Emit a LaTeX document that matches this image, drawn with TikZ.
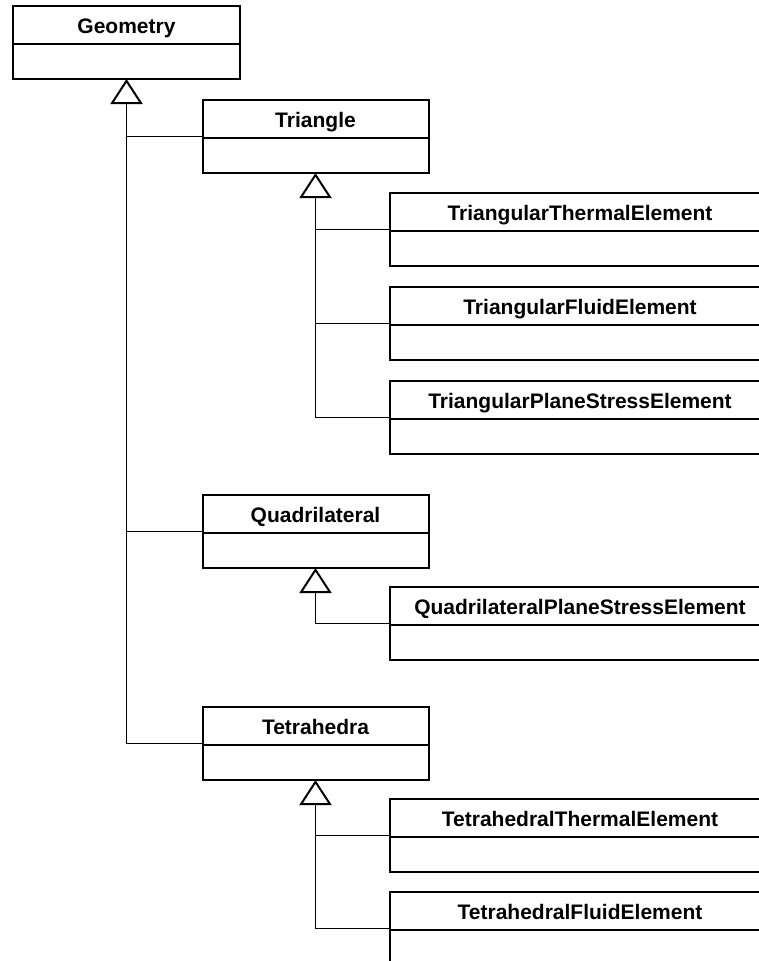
\documentclass[tikz,border=0pt]{standalone}
\usepackage{fontspec}
\setmainfont{Liberation Sans}
\usetikzlibrary{arrows.meta}
\tikzset{
  classbox/.style={draw, line width=2pt, minimum height=73pt, inner sep=0pt, outer sep=0pt,
    path picture={\draw[line width=2pt] ([yshift=-38pt]path picture bounding box.north west) -- ([yshift=-38pt]path picture bounding box.north east);}},
  smallclass/.style={classbox, minimum width=226pt},
  bigclass/.style={classbox, minimum width=380pt},
  classname/.style={anchor=base, font=\fontsize{21}{25}\selectfont\bfseries, inner sep=0pt},
  conn/.style={line width=1.3pt},
  gen/.style={conn, -{Triangle[open, width=32pt, length=25pt, line width=2pt]}},
}
\newcommand\umlcls[5]{%
  \node[#1] (#2) at (#3,{-(#4)-36.5}) {};
  \node[classname] (#2-name) at ([yshift=-27pt]#2.north) {#5};}
\begin{document}
\begin{tikzpicture}[x=1pt,y=1pt]
\useasboundingbox (0,0) rectangle (759,-961);
\fill[white] (0,0) rectangle (759,-961);
\clip (0,0) rectangle (759,-961);

\umlcls{classbox, minimum width=227pt}{geo}{126.5}{6}{Geometry}
\umlcls{smallclass}{tri}{315.5}{100}{Triangle}
\umlcls{smallclass}{quad}{315.5}{495}{Quadrilateral}
\umlcls{smallclass}{tet}{315.5}{707}{Tetrahedra}

\umlcls{bigclass}{tte}{580}{193}{TriangularThermalElement}
\umlcls{bigclass}{tfe}{580}{287}{TriangularFluidElement}
\umlcls{bigclass}{tpe}{580}{381}{TriangularPlaneStressElement}
\umlcls{bigclass}{qpe}{580}{587}{QuadrilateralPlaneStressElement}
\umlcls{bigclass}{hte}{580}{799}{TetrahedralThermalElement}
\umlcls{bigclass}{hfe}{580}{892}{TetrahedralFluidElement}

\coordinate (geo-base) at ([yshift=-24pt]geo.south);
\coordinate (tri-base) at ([yshift=-24pt]tri.south);
\coordinate (tet-base) at ([yshift=-24pt]tet.south);

\draw[gen] (tet.west) -| (geo.south);
\draw[conn] (tri.west) -| (geo-base);
\draw[conn] (quad.west) -| (geo-base);

\draw[gen] (tpe.west) -| (tri.south);
\draw[conn] (tte.west) -| (tri-base);
\draw[conn] (tfe.west) -| (tri-base);

\draw[gen] (qpe.west) -| (quad.south);

\draw[gen] (hfe.west) -| (tet.south);
\draw[conn] (hte.west) -| (tet-base);
\end{tikzpicture}
\end{document}
